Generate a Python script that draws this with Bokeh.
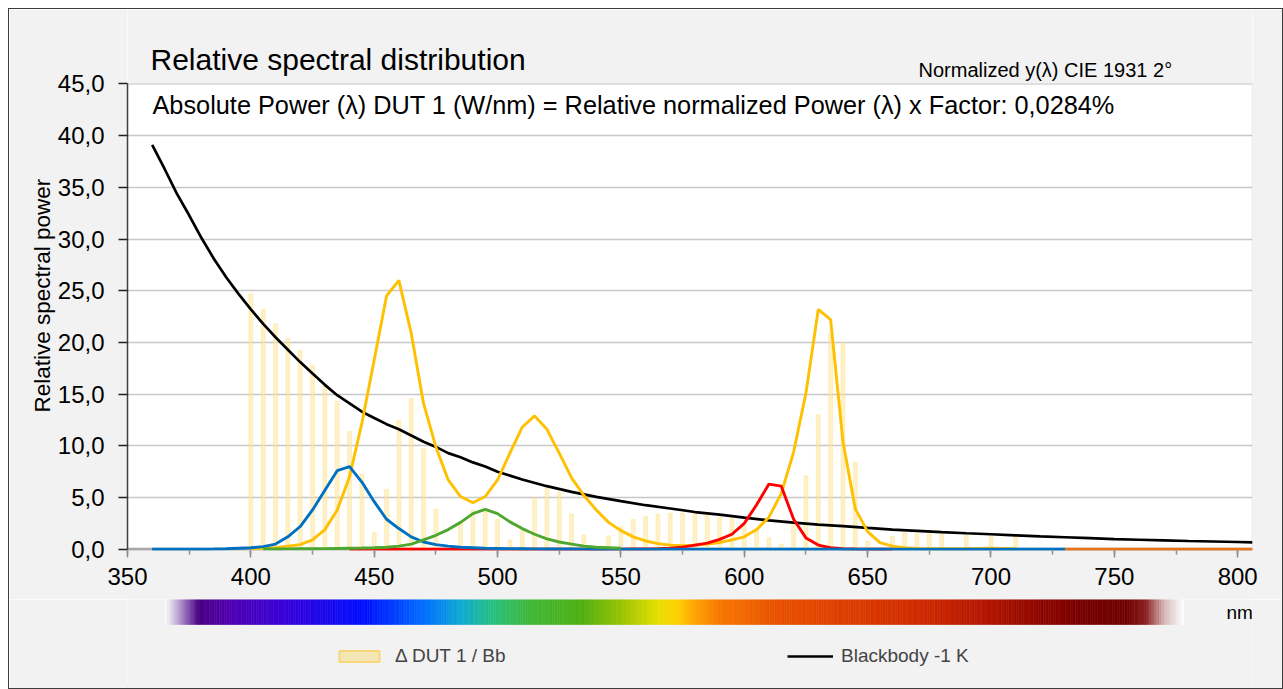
import numpy as np
from bokeh.plotting import figure
from bokeh.models import (Range1d, SingleIntervalTicker, CustomJSTickFormatter, Label,
                          Legend, LegendItem, Title, BoxAnnotation, Span)
from bokeh.layouts import column
from bokeh.embed import file_html
from bokeh.resources import INLINE

# ---------------- data ----------------
bar_nm = list(range(400, 715, 5))
bar_val = [24.7, 23.2, 21.8, 20.4, 19.2, 17.8, 16.0, 14.3, 11.4, 7.3,
           1.6, 5.8, 12.5, 14.6, 9.7, 3.9, 0.0, 2.5, 3.8, 3.9,
           2.9, 0.9, 2.0, 5.0, 6.0, 5.5, 3.4, 1.4, 0.0, 1.3,
           2.2, 2.9, 3.2, 3.4, 3.5, 3.5, 3.5, 3.3, 3.1, 3.0,
           2.3, 1.8, 1.1, 0.5, 2.5, 7.1, 13.0, 20.9, 20.0, 8.4,
           0.8, 0.0, 1.26, 1.6, 1.5, 1.5, 1.45, 0.0, 1.35, 0.0,
           1.26, 0.0, 1.2]

bb_nm = [360, 365, 370, 375, 380, 385, 390, 395, 400, 405, 410, 415, 420, 425,
         430, 435, 440, 445, 450, 455, 460, 465, 470, 475, 480, 485, 490, 495,
         500, 510, 520, 530, 540, 550, 560, 570, 580, 590, 600, 610, 620, 630,
         640, 650, 660, 670, 680, 690, 700, 710, 720, 730, 740, 750, 760, 770,
         780, 790, 800, 806]
bb_val = [39.1, 36.8, 34.4, 32.3, 30.1, 28.1, 26.3, 24.7, 23.2, 21.8, 20.5, 19.3,
          18.1, 17.0, 15.9, 14.9, 14.1, 13.3, 12.7, 12.1, 11.6, 11.0, 10.4, 9.9,
          9.3, 8.9, 8.4, 8.0, 7.5, 6.75, 6.1, 5.55, 5.06, 4.65, 4.26, 3.94, 3.6,
          3.35, 3.06, 2.8, 2.58, 2.39, 2.23, 2.06, 1.9, 1.78, 1.66, 1.55, 1.45,
          1.35, 1.25, 1.16, 1.07, 0.98, 0.92, 0.86, 0.8, 0.75, 0.7, 0.67]

yel_nm = list(range(400, 715, 5))
yel_val = [0.05, 0.1, 0.15, 0.3, 0.45, 0.9, 1.9, 3.8, 7.0, 12.2,
           18.3, 24.5, 26.0, 20.9, 14.1, 9.9, 6.7, 5.1, 4.5, 5.1,
           6.7, 9.3, 11.8, 12.9, 11.6, 9.3, 6.9, 5.2, 3.8, 2.6,
           1.8, 1.2, 0.8, 0.55, 0.4, 0.35, 0.4, 0.5, 0.65, 0.9,
           1.2, 1.9, 3.1, 5.4, 9.4, 15.1, 23.2, 22.2, 10.4, 3.9,
           1.7, 0.65, 0.3, 0.15, 0.08, 0.05, 0.05, 0.05, 0.05, 0.08,
           0.1, 0.08, 0.05]

blue_nm = list(range(360, 735, 5))
blue_val = [0.0, 0.0, 0.0, 0.0, 0.0, 0.02, 0.05, 0.1, 0.15, 0.25,
            0.5, 1.2, 2.2, 3.8, 5.7, 7.6, 8.0, 6.5, 4.6, 2.9,
            2.0, 1.2, 0.7, 0.45, 0.3, 0.2, 0.15, 0.1, 0.08, 0.06,
            0.05, 0.04, 0.03, 0.02, 0.02, 0.01, 0.0, 0.0, 0.0, 0.0,
            0.0, 0.0, 0.0, 0.0, 0.0, 0.0, 0.0, 0.0, 0.0, 0.0,
            0.0, 0.0, 0.0, 0.0, 0.0, 0.0, 0.0, 0.0, 0.0, 0.0,
            0.0, 0.0, 0.0, 0.0, 0.0, 0.0, 0.0, 0.0, 0.0, 0.0,
            0.0, 0.0, 0.0, 0.0, 0.0]

green_nm = list(range(405, 555, 5))
green_val = [0.02, 0.03, 0.04, 0.05, 0.05, 0.06, 0.08, 0.1, 0.12, 0.15,
             0.2, 0.3, 0.5, 0.9, 1.35, 1.9, 2.6, 3.45, 3.85, 3.45,
             2.65, 2.0, 1.45, 1.0, 0.7, 0.5, 0.3, 0.2, 0.15, 0.1]

red_nm = list(range(440, 665, 5))
red_val = [0.0, 0.0, 0.0, 0.0, 0.0, 0.0, 0.0, 0.0, 0.0, 0.0,
           0.0, 0.0, 0.0, 0.0, 0.0, 0.0, 0.0, 0.0, 0.0, 0.0,
           0.0, 0.01, 0.01, 0.02, 0.02, 0.05, 0.1, 0.2, 0.4, 0.6,
           0.95, 1.45, 2.5, 4.3, 6.3, 6.1, 2.9, 1.1, 0.4, 0.15,
           0.05, 0.02, 0.0, 0.0, 0.0]

orange_nm = [730, 806]
orange_val = [0.0, 0.0]

# visible spectrum colour band (wavelength stops, colours)
band_nm = [365.2, 369.7, 378.9, 391.1, 412.5, 446.2, 470.6, 485.9, 498.1, 513.4,
           534.8, 553.2, 565.4, 573.0, 580.7, 589.9, 614.4, 645.0, 675.6, 700.0,
           718.4, 736.7, 755.1, 762.7, 770.4, 778.0]
band_col = ["#ffffff", "#c9b6dc", "#4b0082", "#5000b0", "#3a00d8", "#0010ff",
            "#0070ff", "#10acd0", "#28c080", "#40b838", "#50b010", "#a8c800",
            "#e8e000", "#ffd000", "#ffa000", "#f87800", "#e85000", "#dc3c00",
            "#cc2800", "#b01400", "#900800", "#780000", "#700000", "#8a2020",
            "#d8b8b8", "#ffffff"]

y_max = 45
y_ticks_step = 5
x_ticks_step = 50

FONT = "Liberation Sans"
BG = "#f2f2f2"
W = 1273

# ---------------- main figure (frame reaches the top so titles live inside) ----------------
xr = Range1d(350, 806)
p = figure(width=W, height=590, x_range=xr, y_range=Range1d(-0.12, 52.2),
           output_backend="svg", toolbar_location=None,
           min_border_left=118, min_border_right=30, min_border_top=0,
           min_border_bottom=49, background_fill_color="white",
           border_fill_color=BG)
p.outline_line_color = None

# grey band above the plotting area, and the plotting-area frame
p.add_layout(BoxAnnotation(bottom=y_max, fill_color=BG, fill_alpha=1,
                           line_color=None, level="underlay"))
p.add_layout(BoxAnnotation(bottom=0, top=y_max, fill_alpha=0,
                           line_color="#a0a0a0", line_width=1.5, level="underlay"))

p.xgrid.visible = False
p.ygrid.grid_line_color = "#c8c8c8"
p.ygrid.grid_line_width = 1.5
p.ygrid.ticker = SingleIntervalTicker(interval=y_ticks_step, num_minor_ticks=0)
p.ygrid.bounds = (0, y_max)

# x axis base line at zero (under the curves)
p.add_layout(Span(location=0, dimension="width", line_color="#a6a6a6",
                  line_width=3, level="underlay"))

p.xaxis.ticker = SingleIntervalTicker(interval=x_ticks_step, num_minor_ticks=2)
p.xaxis.axis_line_color = None
p.xaxis.major_tick_line_color = "#8c8c8c"
p.xaxis.minor_tick_line_color = "#8c8c8c"
p.xaxis.major_tick_line_width = 1.5
p.xaxis.minor_tick_line_width = 1.5
p.xaxis.major_tick_in = 0
p.xaxis.major_tick_out = 7
p.xaxis.minor_tick_in = 0
p.xaxis.minor_tick_out = 4
p.xaxis.major_label_text_font = FONT
p.xaxis.major_label_text_font_size = "24px"
p.xaxis.major_label_text_color = "black"
p.xaxis.major_label_standoff = 10

p.yaxis.ticker = SingleIntervalTicker(interval=y_ticks_step, num_minor_ticks=0)
p.yaxis.bounds = (0, y_max)
p.yaxis.formatter = CustomJSTickFormatter(code="return tick.toFixed(1).replace('.', ',');")
p.yaxis.axis_line_color = "#404040"
p.yaxis.axis_line_width = 1.5
p.yaxis.major_tick_line_color = "#202020"
p.yaxis.major_tick_line_width = 1.5
p.yaxis.major_tick_in = 0
p.yaxis.major_tick_out = 9
p.yaxis.minor_tick_line_color = None
p.yaxis.major_label_text_font = FONT
p.yaxis.major_label_text_font_size = "24px"
p.yaxis.major_label_text_color = "black"
p.yaxis.major_label_standoff = 14

p.add_layout(Title(text="Relative spectral power", align="left", offset=138,
                   text_font=FONT, text_font_size="22.5px", text_font_style="normal",
                   text_color="black", standoff=0), "left")

BAR_FILL = "#ffe699"
p.vbar(x=bar_nm, top=bar_val, width=1.6, fill_color=BAR_FILL, fill_alpha=0.55,
       line_color="#ffd966", line_alpha=0.3, line_width=1)
p.line(bb_nm, bb_val, line_color="black", line_width=2.7)
p.line(yel_nm, yel_val, line_color="#ffc000", line_width=2.9)
p.line(red_nm, red_val, line_color="#ff0000", line_width=2.9)
p.line(blue_nm, blue_val, line_color="#0070c0", line_width=2.9)
p.line(green_nm, green_val, line_color="#4ea72e", line_width=2.9)
p.line(orange_nm, orange_val, line_color="#e8731a", line_width=3)

# texts (screen offsets from the frame's bottom-left corner)
p.add_layout(Label(x=23, y=491, x_units="screen", y_units="screen",
                   text="Relative spectral distribution", text_font=FONT,
                   text_font_size="30px", text_color="black",
                   text_baseline="middle", text_align="left"))
p.add_layout(Label(x=791, y=481, x_units="screen", y_units="screen",
                   text="Normalized y(λ) CIE 1931 2°", text_font=FONT,
                   text_font_size="20px", text_color="black",
                   text_baseline="middle", text_align="left"))
p.add_layout(Label(x=25, y=446, x_units="screen", y_units="screen",
                   text="Absolute Power (λ) DUT 1 (W/nm) = Relative normalized Power (λ) x Factor: 0,0284%",
                   text_font=FONT, text_font_size="25.3px", text_color="black",
                   text_baseline="middle", text_align="left"))

# ---------------- spectrum band + legend figure ----------------
p2 = figure(width=W, height=89, x_range=xr, y_range=Range1d(0, 89),
            output_backend="svg", toolbar_location=None,
            min_border_left=118, min_border_right=30, min_border_top=0,
            min_border_bottom=0, background_fill_color=BG,
            border_fill_color=BG)
p2.axis.visible = False
p2.grid.visible = False
p2.outline_line_color = None

def hex2rgb(h):
    return [int(h[i:i + 2], 16) for i in (1, 3, 5)]

rgb = np.array([hex2rgb(c) for c in band_col], dtype=float)
edges = np.arange(band_nm[0], band_nm[-1] + 0.5, 1.0)
mids = (edges[:-1] + edges[1:]) / 2
cols = []
for m in mids:
    r = np.interp(m, band_nm, rgb[:, 0])
    g = np.interp(m, band_nm, rgb[:, 1])
    b = np.interp(m, band_nm, rgb[:, 2])
    cols.append("#%02x%02x%02x" % (int(round(r)), int(round(g)), int(round(b))))
p2.quad(left=edges[:-1], right=edges[1:], bottom=64, top=89, fill_color=cols,
        line_color=cols, line_width=0.6)

p2.add_layout(Label(x=1099, y=76, x_units="screen", y_units="data",
                    text="nm", text_font=FONT, text_font_size="19px",
                    text_color="black", text_baseline="middle", text_align="left"))

# legend proxies (a single point placed outside the visible x range)
r_bar_leg = p2.vbar(x=[300], top=[1], width=1, fill_color="#f5e6b5", fill_alpha=1,
                    line_color="#f7d67a", line_width=2)
r_bb_leg = p2.line(x=[290, 300], y=[1, 1], line_color="black", line_width=2.5)

leg1 = Legend(items=[LegendItem(label="Δ DUT 1 / Bb", renderers=[r_bar_leg])],
              location=(207, 21), glyph_width=50, glyph_height=14, label_standoff=11,
              label_text_font=FONT, label_text_font_size="19px", label_height=20,
              padding=0, margin=0, spacing=0, border_line_color=None,
              background_fill_alpha=0)
leg2 = Legend(items=[LegendItem(label="Blackbody -1 K", renderers=[r_bb_leg])],
              location=(660, 21), glyph_width=46, glyph_height=14, label_standoff=8,
              label_text_font=FONT, label_text_font_size="19px", label_height=20,
              padding=0, margin=0, spacing=0, border_line_color=None,
              background_fill_alpha=0)
p2.add_layout(leg1)
p2.add_layout(leg2)

layout = column(p, p2, spacing=0,
                styles={"border": "1px solid #3c3c3c", "margin": "8px 0 0 8px"})

open("out.html", "w").write(file_html(layout, INLINE))
